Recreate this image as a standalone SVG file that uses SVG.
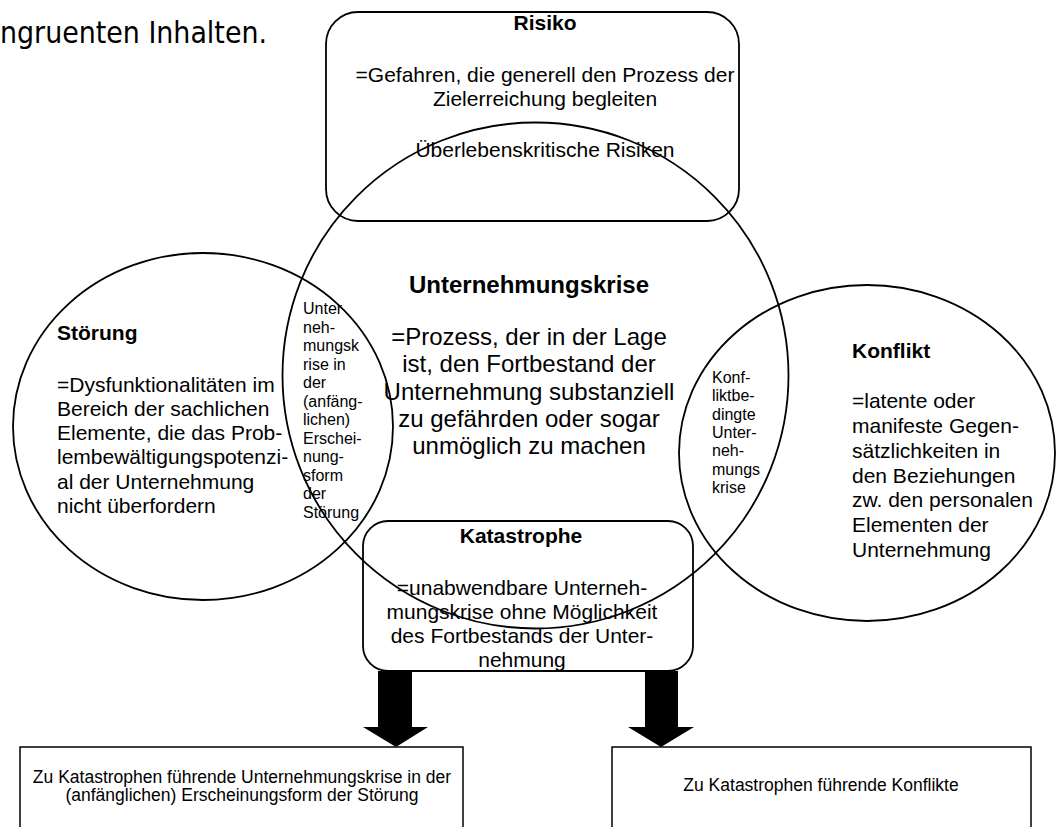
<svg xmlns="http://www.w3.org/2000/svg" width="1061" height="827" viewBox="0 0 1061 827">
<style>
.s{fill:none;stroke:#000;stroke-width:1.8}
.bx{fill:none;stroke:#000;stroke-width:1.5}
.t{font-family:"Liberation Sans",Arial,sans-serif;fill:#000}
.b{font-weight:bold}
.f21{font-size:21px}
.f24{font-size:24px}
.f16{font-size:16px}
.f17{font-size:17.5px}
.m{text-anchor:middle}
.arr{fill:#000;stroke:none}
</style>
<rect width="1061" height="827" fill="#fff"/>
<g id="fragment">
<text x="0" y="43" font-family="DejaVu Sans, sans-serif" font-size="31" textLength="267" lengthAdjust="spacingAndGlyphs">ngruenten Inhalten.</text>
</g>
<g id="risiko">
<rect class="s" x="326" y="12" width="413" height="209" rx="32"/>
<text class="t b f21 m" x="545" y="30">Risiko</text>
<text class="t f21 m" x="545" y="82">=Gefahren, die generell den Prozess der</text>
<text class="t f21 m" x="545" y="106">Zielerreichung begleiten</text>
<text class="t f21 m" x="545" y="157">Überlebenskritische Risiken</text>
</g>
<g id="unternehmungskrise">
<circle class="s" cx="535.5" cy="375.5" r="253"/>
<text class="t b f24 m" x="529" y="293">Unternehmungskrise</text>
<text class="t f24 m" x="529" y="345">=Prozess, der in der Lage</text>
<text class="t f24 m" x="529" y="372">ist, den Fortbestand der</text>
<text class="t f24 m" x="529" y="400">Unternehmung substanziell</text>
<text class="t f24 m" x="529" y="427">zu gefährden oder sogar</text>
<text class="t f24 m" x="529" y="454">unmöglich zu machen</text>
</g>
<g id="stoerung">
<ellipse class="s" cx="203" cy="426.5" rx="190" ry="173.5"/>
<text class="t b f21" x="57" y="340">Störung</text>
<text class="t f21" x="57" y="392">=Dysfunktionalitäten im</text>
<text class="t f21" x="57" y="416">Bereich der sachlichen</text>
<text class="t f21" x="57" y="440">Elemente, die das Prob-</text>
<text class="t f21" x="57" y="464">lembewältigungspotenzi-</text>
<text class="t f21" x="57" y="489">al der Unternehmung</text>
<text class="t f21" x="57" y="513">nicht überfordern</text>
</g>
<g id="schnitt-stoerung">
<text class="t f16" x="303" y="314">Unter</text>
<text class="t f16" x="303" y="333">neh-</text>
<text class="t f16" x="303" y="351">mungsk</text>
<text class="t f16" x="303" y="370">rise in</text>
<text class="t f16" x="303" y="388">der</text>
<text class="t f16" x="303" y="407">(anfäng-</text>
<text class="t f16" x="303" y="425">lichen)</text>
<text class="t f16" x="303" y="444">Erschei-</text>
<text class="t f16" x="303" y="462">nung-</text>
<text class="t f16" x="303" y="481">sform</text>
<text class="t f16" x="303" y="499">der</text>
<text class="t f16" x="303" y="518">Störung</text>
</g>
<g id="konflikt">
<ellipse class="s" cx="867" cy="453" rx="188" ry="168"/>
<text class="t b f21" x="852" y="358">Konflikt</text>
<text class="t f21" x="852" y="408">=latente oder</text>
<text class="t f21" x="852" y="433">manifeste Gegen-</text>
<text class="t f21" x="852" y="458">sätzlichkeiten in</text>
<text class="t f21" x="852" y="483">den Beziehungen</text>
<text class="t f21" x="852" y="507">zw. den personalen</text>
<text class="t f21" x="852" y="532">Elementen der</text>
<text class="t f21" x="852" y="557">Unternehmung</text>
</g>
<g id="schnitt-konflikt">
<text class="t f16" x="712" y="383">Konf-</text>
<text class="t f16" x="712" y="401">liktbe-</text>
<text class="t f16" x="712" y="420">dingte</text>
<text class="t f16" x="712" y="438">Unter-</text>
<text class="t f16" x="712" y="456">neh-</text>
<text class="t f16" x="712" y="475">mungs</text>
<text class="t f16" x="712" y="493">krise</text>
</g>
<g id="katastrophe">
<rect class="s" x="363" y="521" width="330" height="150" rx="25"/>
<text class="t b f21 m" x="521" y="543">Katastrophe</text>
<text class="t f21 m" x="522" y="595">=unabwendbare Unterneh-</text>
<text class="t f21 m" x="522" y="619">mungskrise ohne Möglichkeit</text>
<text class="t f21 m" x="522" y="643">des Fortbestands der Unter-</text>
<text class="t f21 m" x="522" y="667">nehmung</text>
</g>
<g id="connectors">
<polygon class="arr" points="378,671 412,671 412,727 428,727 396,747 363,727 378,727"/>
<polygon class="arr" points="645,671 678,671 678,727 694,727 661,747 628,727 645,727"/>
</g>
<g id="ergebnis-stoerung">
<rect class="bx" x="20" y="747" width="443" height="100"/>
<text class="t f17 m" x="242" y="783">Zu Katastrophen führende Unternehmungskrise in der</text>
<text class="t f17 m" x="242" y="801">(anfänglichen) Erscheinungsform der Störung</text>
</g>
<g id="ergebnis-konflikt">
<rect class="bx" x="612" y="747" width="419" height="100"/>
<text class="t f17 m" x="821" y="791">Zu Katastrophen führende Konflikte</text>
</g>
</svg>
